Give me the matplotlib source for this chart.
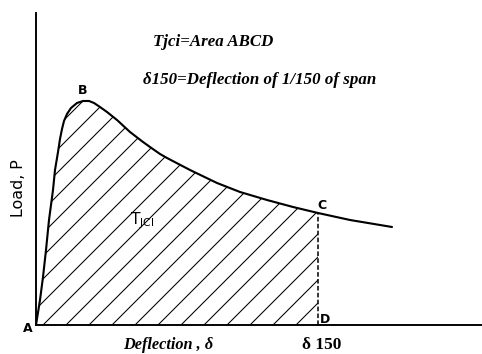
#!/usr/bin/env python3
"""
Load-deflection curve with the toughness area ABCD shaded up to delta-150
"""

import matplotlib.pyplot as plt
import numpy as np

# Load-deflection curve (arbitrary units), read along the curve from A
deflection = [0, 4, 7, 10, 13, 17, 19, 22, 24, 26, 28, 31, 35, 41, 47, 53,
              58, 64, 71, 81, 94, 107, 114, 124, 131, 154, 181, 204, 231, 257,
              282, 314, 356]
load = [0, 25, 48, 75, 105, 135, 155, 173, 186, 196, 204, 211, 217, 222, 224,
        224, 222, 218, 213, 205, 193, 183, 178, 171, 167, 155, 142, 133, 125,
        118, 112, 105, 98]

# deflection at 1/150 of span (point C / D)
delta_150 = 282

DPI = 138


def main():
    plt.rcParams['hatch.linewidth'] = 0.55

    fig = plt.figure(figsize=(3.4929, 2.5653), dpi=DPI)
    W, H = 482, 354
    x0, y0, ytop = 36, 325, 13
    ax = fig.add_axes([x0 / W, (H - y0) / H, (W - x0) / W, (y0 - ytop) / H])
    ax.set_xlim(0, W - x0)
    ax.set_ylim(0, y0 - ytop)

    x = np.array(deflection)
    y = np.array(load)

    # hatched area under the curve from A to D
    mask = x <= delta_150
    ax.fill_between(x[mask], 0, y[mask], facecolor='none', edgecolor='black',
                    hatch='//', linewidth=0)

    ax.plot(x, y, color='black', linewidth=1.1, solid_joinstyle='round',
            solid_capstyle='round')

    c_load = y[x == delta_150][0]
    ax.plot([delta_150, delta_150], [0, c_load], color='black',
            linewidth=0.8, linestyle=(0, (3, 1.5)))

    # axes: only left and bottom lines, no ticks
    for side in ['top', 'right']:
        ax.spines[side].set_visible(False)
    for side in ['left', 'bottom']:
        ax.spines[side].set_linewidth(1.0)
    ax.set_xticks([])
    ax.set_yticks([])

    # point labels
    lab = dict(family='DejaVu Sans', fontsize=6.5, fontweight='bold')
    ax.text(-8, -3, 'A', ha='center', va='center', **lab)
    ax.text(47, 235, 'B', ha='center', va='center', **lab)
    ax.text(delta_150 + 4, c_load + 8, 'C', ha='center', va='center', **lab)
    ax.text(delta_150 + 7, 6, 'D', ha='center', va='center', **lab)

    ax.text(94, 104, r'T$_{\mathregular{JCI}}$', family='DejaVu Sans',
            fontsize=8, ha='left', va='center')

    serif = dict(family='Liberation Serif', fontweight='bold', fontstyle='italic')
    ax.text(117, 283, 'Tjci=Area ABCD', fontsize=8.8, ha='left', va='center',
            **serif)
    ax.text(107, 245, 'δ150=Deflection of 1/150 of span', fontsize=8.8,
            ha='left', va='center', **serif)

    fig.text(18 / W, 1 - 188 / H, 'Load, P', rotation=90, family='DejaVu Sans',
             fontsize=8.3, ha='center', va='center')
    fig.text(168 / W, 1 - 345 / H, 'Deflection , δ', fontsize=8.5,
             ha='center', va='center', **serif)
    fig.text((x0 + delta_150 + 4) / W, 1 - 345 / H, 'δ 150',
             family='Liberation Serif', fontweight='bold', fontsize=9,
             ha='center', va='center')

    fig.savefig('out.png', dpi=DPI, facecolor='white')


if __name__ == "__main__":
    main()
